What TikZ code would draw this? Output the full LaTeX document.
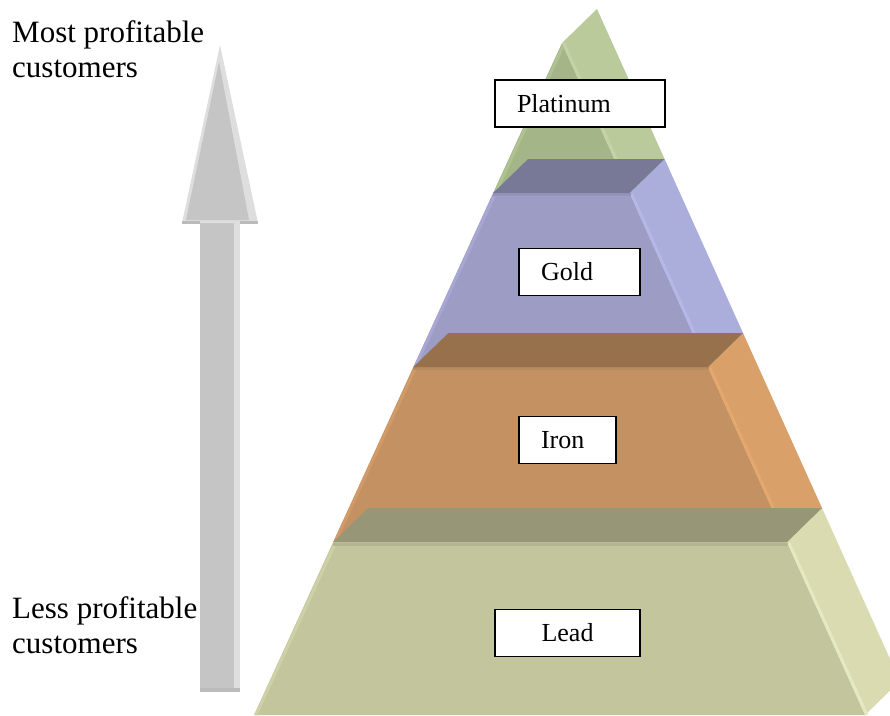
\documentclass[tikz,border=0pt]{standalone}
\usepackage{fontspec}
\setmainfont{Liberation Serif}
\definecolor{ptFront}{HTML}{A4B587}
\definecolor{ptRight}{HTML}{BACA9B}
\definecolor{ptEdgeL}{HTML}{B0C192}
\definecolor{ptEdgeR}{HTML}{C4D3A5}
\definecolor{auTop}{HTML}{787996}
\definecolor{auFront}{HTML}{9D9CC4}
\definecolor{auRight}{HTML}{ABADDB}
\definecolor{auEdgeT}{HTML}{9493BA}
\definecolor{auEdgeL}{HTML}{A8A7D4}
\definecolor{auEdgeR}{HTML}{B5B7E6}
\definecolor{feTop}{HTML}{97714B}
\definecolor{feFront}{HTML}{C39162}
\definecolor{feRight}{HTML}{D9A06A}
\definecolor{feEdgeT}{HTML}{B88A5C}
\definecolor{feEdgeL}{HTML}{D29A66}
\definecolor{feEdgeR}{HTML}{E4A86F}
\definecolor{pbTop}{HTML}{979677}
\definecolor{pbFront}{HTML}{C3C69D}
\definecolor{pbRight}{HTML}{DADBB0}
\definecolor{pbEdgeT}{HTML}{B3B58F}
\definecolor{pbEdgeL}{HTML}{CED1A8}
\definecolor{pbEdgeR}{HTML}{E6E8C2}
\definecolor{arBase}{HTML}{C5C5C5}
\definecolor{arLight}{HTML}{DEDEDE}
\definecolor{arDark}{HTML}{BBBBBB}
\tikzset{
  lbl/.style={draw=black, line width=1.2pt, fill=white, rectangle, inner xsep=22pt,
    minimum height=47pt, font=\fontsize{26}{30}\selectfont},
  sidetxt/.style={anchor=base west, inner sep=0pt, font=\fontsize{31}{35}\selectfont},
  strip/.style={line width=3pt}
}
\begin{document}
\begin{tikzpicture}[x=1pt,y=-1pt]
\useasboundingbox (0,0) rectangle (890,715);
\clip (0,0) rectangle (890,715);

% ---------- arrow ----------
\fill[arBase] (200,223) rectangle (240,692);
\fill[arLight] (234,223) rectangle (240,692);
\fill[arDark] (200,688) rectangle (240,692);
\fill[arLight] (220,45) -- (182,223) -- (258,223) -- cycle;
\fill[arBase] (219,62) -- (186,220) -- (249,220) -- cycle;
\fill[arDark] (182,220.5) rectangle (200,223.5);
\fill[arDark] (240,220.5) rectangle (258,223.5);

% ---------- Platinum ----------
\fill[ptFront] (562,43) -- (493.1,193) -- (629.6,193) -- cycle;
\fill[ptRight] (562,43) -- (597,9) -- (664.6,159) -- (629.6,193) -- cycle;
\draw[strip, ptEdgeL] (563.5,45) -- (495.5,193);
\draw[strip, ptEdgeR] (563.5,43) -- (631.6,193);

% ---------- Gold ----------
\fill[auFront] (493.1,193) -- (629.6,193) -- (708,367) -- (413.4,367) -- cycle;
\fill[auRight] (629.6,193) -- (664.6,159) -- (743,333) -- (708,367) -- cycle;
\draw[strip, auEdgeL] (494.6,195) -- (415,367);
\draw[strip, auEdgeR] (631.6,194) -- (709.5,367);
\draw[strip, auEdgeT] (493.1,194.5) -- (630.6,194.5);
\fill[auTop] (493.1,193) -- (629.6,193) -- (664.6,159) -- (528.1,159) -- cycle;

% ---------- Iron ----------
\fill[feFront] (413.4,367) -- (708,367) -- (787,542) -- (333.2,542) -- cycle;
\fill[feRight] (708,367) -- (743,333) -- (822,508) -- (787,542) -- cycle;
\draw[strip, feEdgeL] (415,369) -- (335,542);
\draw[strip, feEdgeR] (710,368) -- (788.5,542);
\draw[strip, feEdgeT] (413.4,368.5) -- (709,368.5);
\fill[feTop] (413.4,367) -- (708,367) -- (743,333) -- (448.4,333) -- cycle;

% ---------- Lead ----------
\fill[pbFront] (333.2,542) -- (787,542) -- (865,715) -- (254,715) -- cycle;
\fill[pbRight] (787,542) -- (822,508) -- (900,681) -- (865,715) -- cycle;
\draw[strip, pbEdgeL] (335,544) -- (256,715);
\draw[strip, pbEdgeR] (789,543) -- (867,715);
\draw[strip, pbEdgeT] (333.2,544) -- (788,544);
\fill[pbTop] (333.2,542) -- (787,542) -- (822,508) -- (368.2,508) -- cycle;

% ---------- labels ----------
\node[lbl, text width=126pt, align=left] (plat) at (580,103.5) {Platinum};
\node[lbl, text width=77pt, align=left] (gold) at (579.5,272) {Gold};
\node[lbl, text width=53pt, align=left] (iron) at (567.5,440) {Iron};
\node[lbl, text width=101pt, align=center] (lead) at (567.5,633) {Lead};

\node[sidetxt] (most1) at (12,42) {Most profitable};
\node[sidetxt] (most2) at (12,77) {customers};
\node[sidetxt] (less1) at (12,618) {Less profitable};
\node[sidetxt] (less2) at (12,653) {customers};
\end{tikzpicture}
\end{document}
